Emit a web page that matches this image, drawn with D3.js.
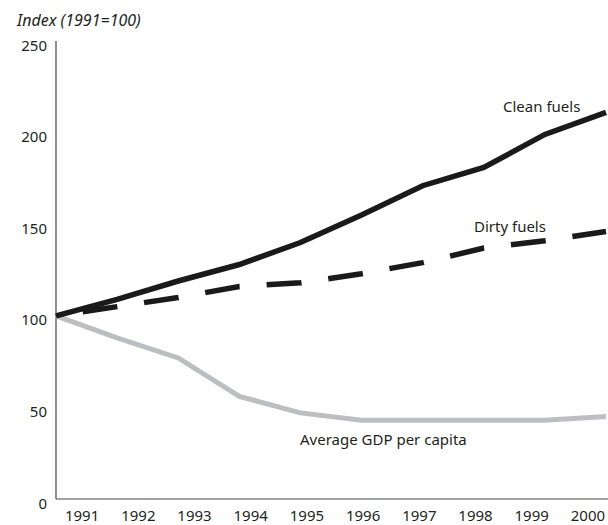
<html>
 <head>
  <title>Index chart</title>
  <script src="https://d3js.org/d3.v7.min.js"></script>
  <style>
   body{margin:0;background:#fff;}
   text{font-family:"Noto Sans",sans-serif;fill:#231f20;}
  </style>
 </head>
 <body>
  <svg></svg>
  <script>
    var years = [1991,1992,1993,1994,1995,1996,1997,1998,1999,2000];
    var cleanFuels = [100,109,119,128,140,155,171,181,199,211];
    var dirtyFuels = [100,105,110,116,118,123,129,137,141,146];
    var gdpPerCapita = [100,88,77,56,47,43,43,43,43,45];
    var yTicks = [0,50,100,150,200,250];

    var width=608,height=525;
    var svg = d3.select("svg").attr("width",width).attr("height",height);

    var x = d3.scalePoint().domain(years).range([56,606]);
    // the year labels are set on their own band, they don't sit under the points
    var xLab = d3.scaleBand().domain(years).range([54,616]);
    var y = d3.scaleLinear().domain([0,250]).range([499,41]);

    // axis lines
    svg.append("line").attr("x1",56).attr("x2",56).attr("y1",41).attr("y2",499)
       .attr("stroke","#444").attr("stroke-width",1.2);
    svg.append("line").attr("x1",56).attr("x2",608).attr("y1",499).attr("y2",499)
       .attr("stroke","#444").attr("stroke-width",1.2);

    var yAxis = svg.append("g").attr("transform","translate(56,0)")
        .call(d3.axisLeft(y).tickValues(yTicks).tickSize(0).tickPadding(9));
    yAxis.select(".domain").remove();
    yAxis.selectAll("text").attr("dy","0.6em").style("font-size","15px");

    var xAxis = svg.append("g").attr("transform","translate(0,499)")
        .call(d3.axisBottom(xLab).tickSize(0).tickPadding(11));
    xAxis.select(".domain").remove();
    xAxis.selectAll("text").style("font-size","15px");

    svg.append("text").attr("x",17).attr("y",26).style("font-style","italic")
       .style("font-size","16px").text("Index (1991=100)");

    var line = d3.line().x(function(d,i){return x(years[i]);}).y(function(d){return y(d);});

    svg.append("path").datum(gdpPerCapita).attr("d",line)
       .attr("fill","none").attr("stroke","#bdbec0").attr("stroke-width",5);
    svg.append("path").datum(dirtyFuels).attr("d",line)
       .attr("fill","none").attr("stroke","#1a1a1a").attr("stroke-width",5.5)
       .attr("stroke-dasharray","35,27").attr("stroke-dashoffset",35);
    svg.append("path").datum(cleanFuels).attr("d",line)
       .attr("fill","none").attr("stroke","#1a1a1a").attr("stroke-width",5.5);

    var labels = [{t:"Clean fuels",x:503,y:112},{t:"Dirty fuels",x:474,y:232},{t:"Average GDP per capita",x:300,y:445}];
    svg.selectAll("text.lab").data(labels).enter().append("text").attr("class","lab")
       .attr("x",function(d){return d.x;}).attr("y",function(d){return d.y;})
       .style("font-size","15px").text(function(d){return d.t;});
  </script>
 </body>
</html>
